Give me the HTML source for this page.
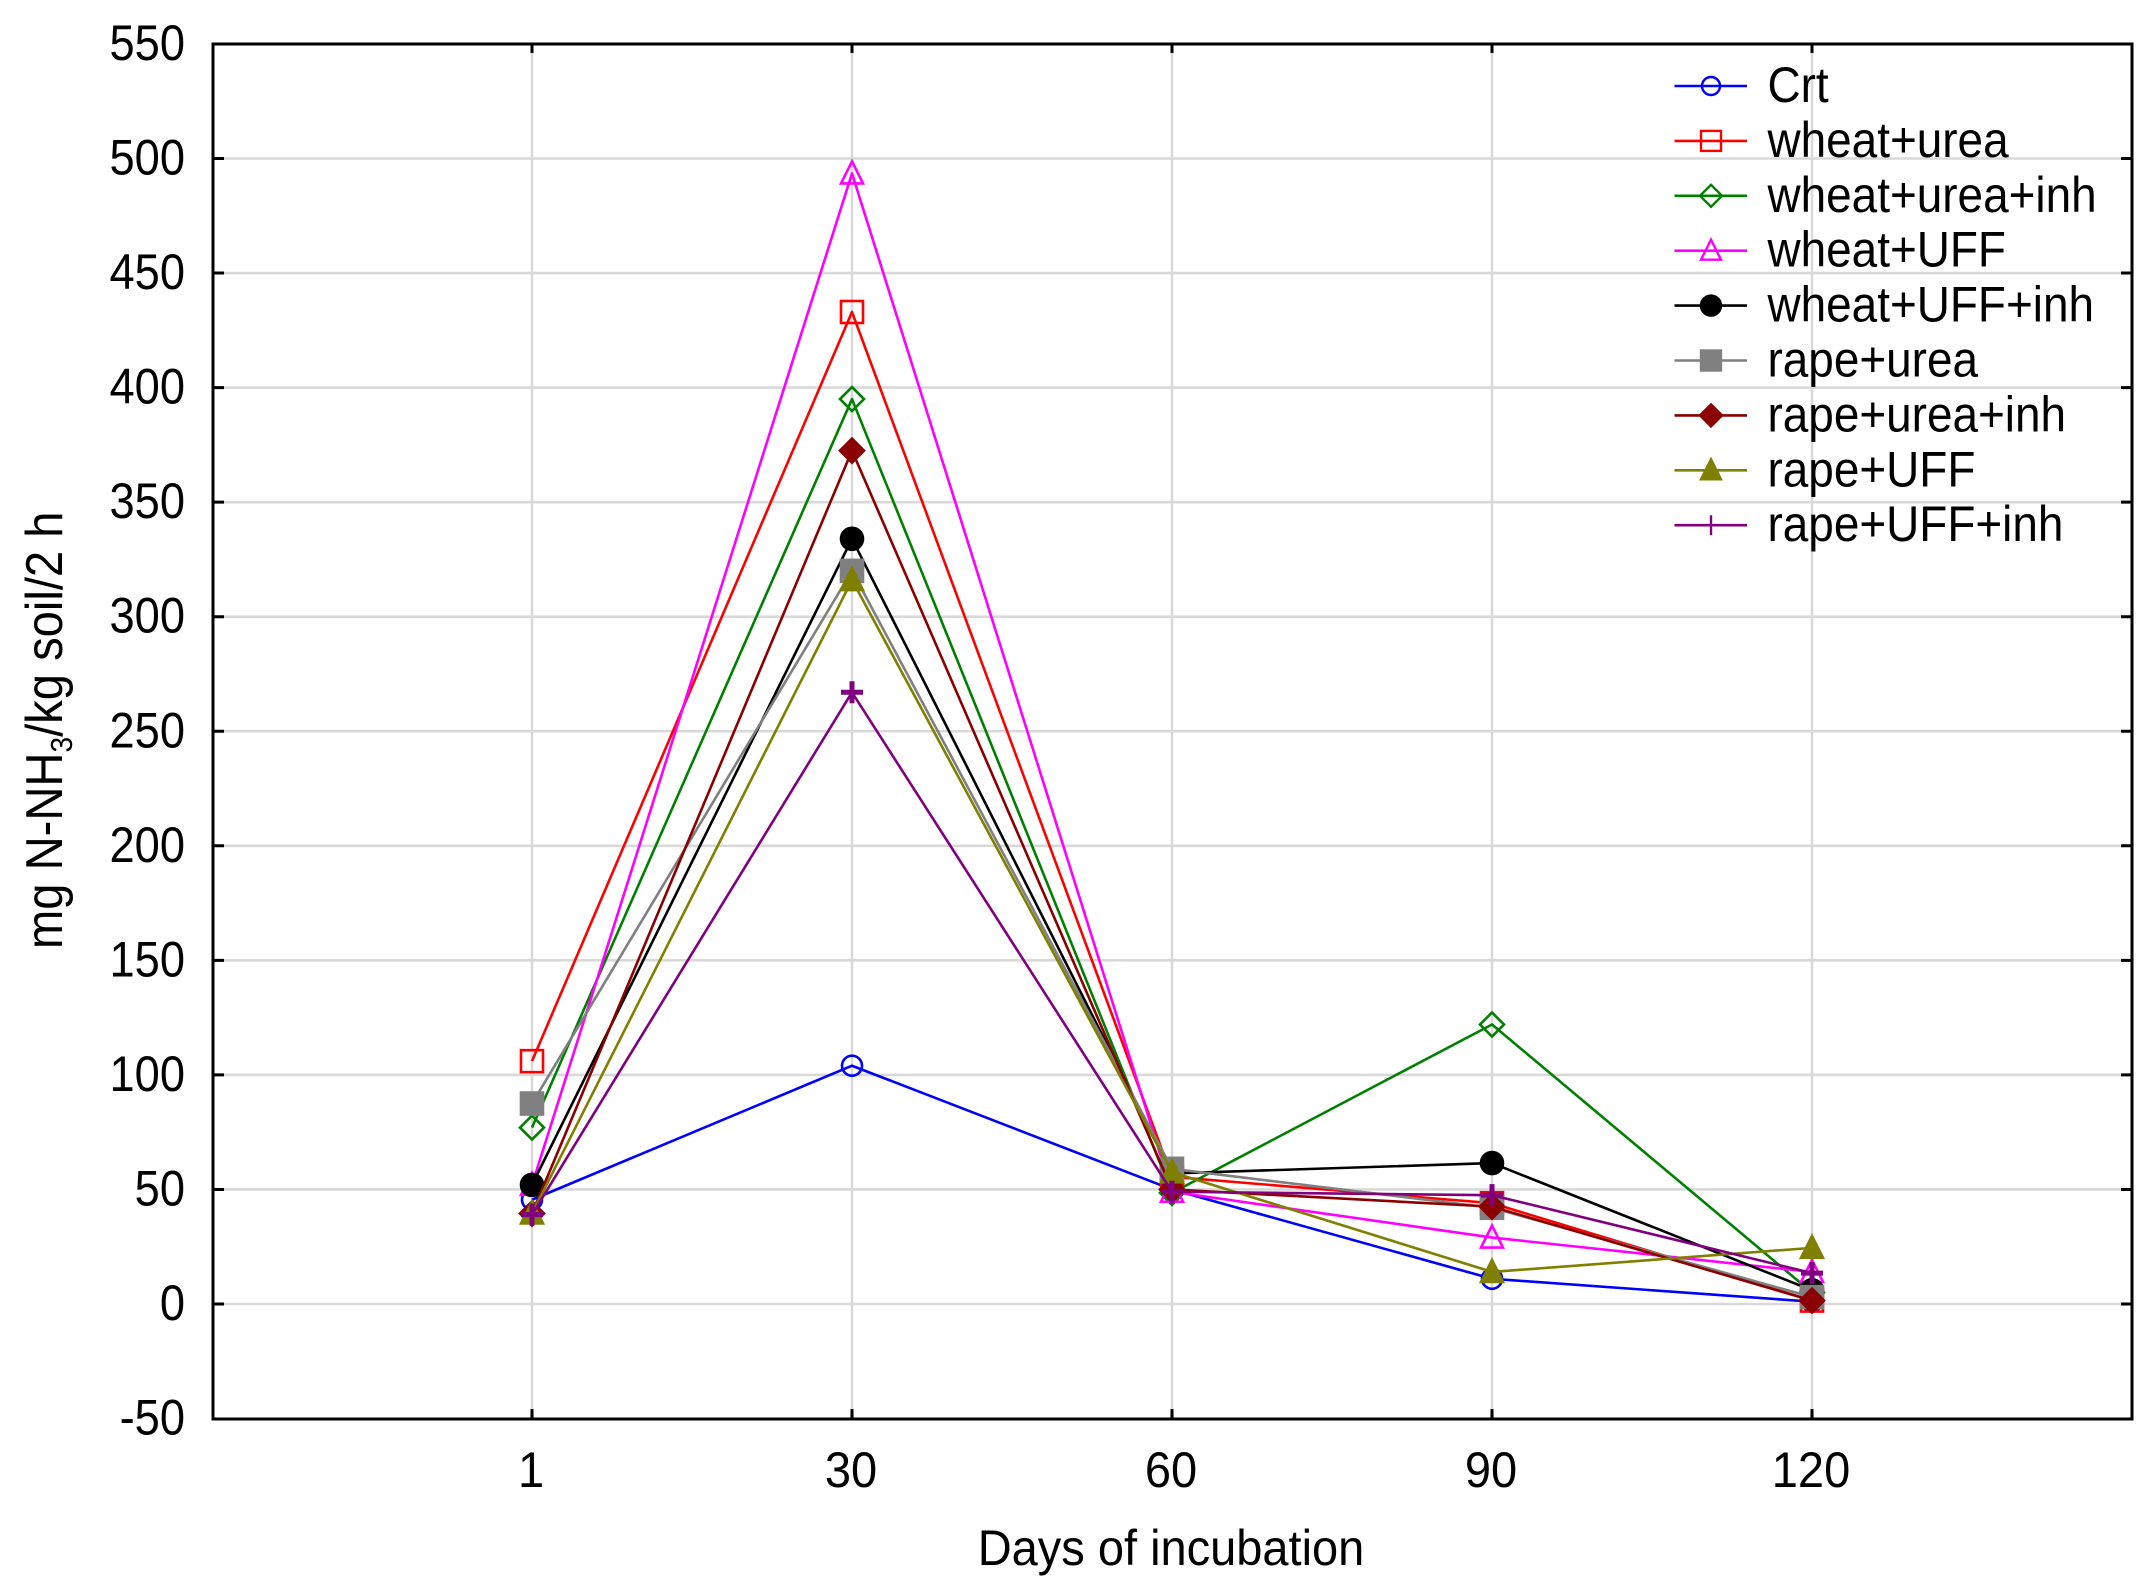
<!DOCTYPE html>
<html lang="en">
<head>
<meta charset="utf-8">
<title>N-NH3 emission over days of incubation</title>
<style>
html,body{margin:0;padding:0;background:#fff;}
svg{display:block;}
text{font-family:"Liberation Sans",Arial,sans-serif;fill:#000;}
</style>
</head>
<body>
<svg id="chart" xmlns="http://www.w3.org/2000/svg" width="2156" height="1587" viewBox="0 0 2156 1587">
  <rect x="0" y="0" width="2156" height="1587" fill="#ffffff"/>
  <g id="grid"></g>
  <g id="ticks"></g>
  <rect x="213" y="44" width="1919" height="1375" fill="none" stroke="#000" stroke-width="3"/>
  <g id="tick-labels"></g>
  <g id="series"></g>
  <g id="legend"></g>
  <text transform="translate(1171,1565) scale(0.94,1)" text-anchor="middle" font-size="50">Days of incubation</text>
  <text transform="translate(62,949) rotate(-90) scale(0.907,1)" font-size="52">mg N-NH<tspan font-size="31" dy="10">3</tspan><tspan dy="-10">/kg soil/2 h</tspan></text>
</svg>
<script>
const categories = [1, 30, 60, 90, 120];
const yTickValues = [-50, 0, 50, 100, 150, 200, 250, 300, 350, 400, 450, 500, 550];
const seriesNames = ["Crt", "wheat+urea", "wheat+urea+inh", "wheat+UFF", "wheat+UFF+inh", "rape+urea", "rape+urea+inh", "rape+UFF", "rape+UFF+inh"];
const crt = [45.5, 104, 50, 11, 1];
const wheatUrea = [106, 433, 55.5, 44, 1.5];
const wheatUreaInh = [77, 395, 48.5, 122, 5];
const wheatUff = [52, 493.5, 49, 29, 14];
const wheatUffInh = [52, 334, 57, 61.5, 6];
const rapeUrea = [87.5, 320, 59, 42, 3];
const rapeUreaInh = [39.5, 372.5, 50, 42.5, 1.5];
const rapeUff = [39.5, 316, 57.5, 14, 24.5];
const rapeUffInh = [39, 267, 49, 47.5, 13.5];
const seriesValues = [crt, wheatUrea, wheatUreaInh, wheatUff, wheatUffInh, rapeUrea, rapeUreaInh, rapeUff, rapeUffInh];
const seriesColors = ["#0000ff", "#ff0000", "#008000", "#ff00ff", "#000000", "#808080", "#8b0000", "#808000", "#800080"];
const seriesMarkers = ["circle", "square", "diamond", "triangle", "circle-fill", "square-fill", "diamond-fill", "triangle-fill", "plus"];

const NS = "http://www.w3.org/2000/svg";
const PLOT_LEFT = 213, PLOT_RIGHT = 2132, PLOT_TOP = 44, PLOT_BOTTOM = 1419;
function xScale(i) { return 532 + 320 * i; }
function yScale(v) { return 1304 - 2.291 * v; }
function slug(s) { return s.toLowerCase().replace(/\+/g, "-"); }
function svgEl(tag, parent) {
  const el = document.createElementNS(NS, tag);
  parent.appendChild(el);
  return el;
}

function drawMarker(parent, kind, cx, cy, color, r, sw) {
  let el;
  const filled = kind.indexOf("fill") >= 0;
  if (kind.indexOf("circle") === 0) {
    el = svgEl("circle", parent);
    el.setAttribute("cx", cx);
    el.setAttribute("cy", cy);
    el.setAttribute("r", r - (filled ? 0 : 1));
  } else if (kind.indexOf("square") === 0) {
    el = svgEl("rect", parent);
    el.setAttribute("x", cx - r);
    el.setAttribute("y", cy - r);
    el.setAttribute("width", 2 * r);
    el.setAttribute("height", 2 * r);
  } else if (kind.indexOf("diamond") === 0) {
    el = svgEl("polygon", parent);
    const d = r + 1;
    el.setAttribute("points", cx + "," + (cy - d) + " " + (cx + d) + "," + cy + " " + cx + "," + (cy + d) + " " + (cx - d) + "," + cy);
  } else if (kind.indexOf("triangle") === 0) {
    el = svgEl("polygon", parent);
    el.setAttribute("points", cx + "," + (cy - r - 1) + " " + (cx + r) + "," + (cy + r - 1) + " " + (cx - r) + "," + (cy + r - 1));
  } else {
    el = svgEl("path", parent);
    el.setAttribute("d", "M" + (cx - r) + " " + cy + "H" + (cx + r) + "M" + cx + " " + (cy - r) + "V" + (cy + r));
  }
  el.setAttribute("fill", filled ? color : "none");
  el.setAttribute("stroke", color);
  el.setAttribute("stroke-width", sw);
  return el;
}

const grid = document.getElementById("grid");
const ticks = document.getElementById("ticks");
const tickLabels = document.getElementById("tick-labels");

yTickValues.forEach(function (v) {
  const y = yScale(v);
  if (v !== -50 && v !== 550) {
    const g = svgEl("line", grid);
    
    
    g.setAttribute("x1", PLOT_LEFT);
    g.setAttribute("x2", PLOT_RIGHT);
    g.setAttribute("y1", y);
    g.setAttribute("y2", y);
    g.setAttribute("stroke", "#d9d9d9");
    g.setAttribute("stroke-width", 2.6);
    const tl = svgEl("path", ticks);
    
    
    tl.setAttribute("d", "M" + PLOT_LEFT + " " + y + "h11M" + PLOT_RIGHT + " " + y + "h-11");
    tl.setAttribute("stroke", "#000");
    tl.setAttribute("stroke-width", 3);
  }
  const t = svgEl("text", tickLabels);
  
  
  t.setAttribute("transform", "translate(185," + (y + 16) + ") scale(0.905,1)");
  t.setAttribute("text-anchor", "end");
  t.setAttribute("font-size", 50);
  t.textContent = String(v);
});

categories.forEach(function (c, i) {
  const x = xScale(i);
  const g = svgEl("line", grid);
  
  
  g.setAttribute("x1", x);
  g.setAttribute("x2", x);
  g.setAttribute("y1", PLOT_TOP);
  g.setAttribute("y2", PLOT_BOTTOM);
  g.setAttribute("stroke", "#d9d9d9");
  g.setAttribute("stroke-width", 2.6);
  const tk = svgEl("path", ticks);
  
  
  tk.setAttribute("d", "M" + x + " " + PLOT_TOP + "v9M" + x + " " + PLOT_BOTTOM + "v-10");
  tk.setAttribute("stroke", "#000");
  tk.setAttribute("stroke-width", 3);
  const t = svgEl("text", tickLabels);
  
  
  t.setAttribute("transform", "translate(" + (x - 1) + ",1487) scale(0.94,1)");
  t.setAttribute("text-anchor", "middle");
  t.setAttribute("font-size", 50);
  t.textContent = String(c);
});

const seriesLayer = document.getElementById("series");
seriesValues.forEach(function (values, s) {
  const g = svgEl("g", seriesLayer);
  
  
  const line = svgEl("polyline", g);
  
  
  line.setAttribute("points", values.map(function (v, i) { return xScale(i) + "," + yScale(v); }).join(" "));
  line.setAttribute("fill", "none");
  line.setAttribute("stroke", seriesColors[s]);
  line.setAttribute("stroke-width", 2.6);
  line.setAttribute("stroke-linejoin", "round");
  values.forEach(function (v, i) {
    const kind = seriesMarkers[s];
    const m = drawMarker(g, kind, xScale(i), yScale(v), seriesColors[s], 11, kind === "plus" ? 5 : 2.6);
    
    
  });
});

const legend = document.getElementById("legend");
seriesNames.forEach(function (name, s) {
  const y = 86 + 54.9 * s;
  const g = svgEl("g", legend);
  
  
  const l = svgEl("line", g);
  
  
  l.setAttribute("x1", 1674.5);
  l.setAttribute("x2", 1747);
  l.setAttribute("y1", y);
  l.setAttribute("y2", y);
  l.setAttribute("stroke", seriesColors[s]);
  l.setAttribute("stroke-width", 2.6);
  const m = drawMarker(g, seriesMarkers[s], 1711, y, seriesColors[s], 10, 2.4);
  
  
  const t = svgEl("text", g);
  
  
  t.setAttribute("transform", "translate(1767.5," + (y + 16) + ") scale(0.918,1)");
  t.setAttribute("font-size", 50);
  t.textContent = name;
});
</script>
</body>
</html>
